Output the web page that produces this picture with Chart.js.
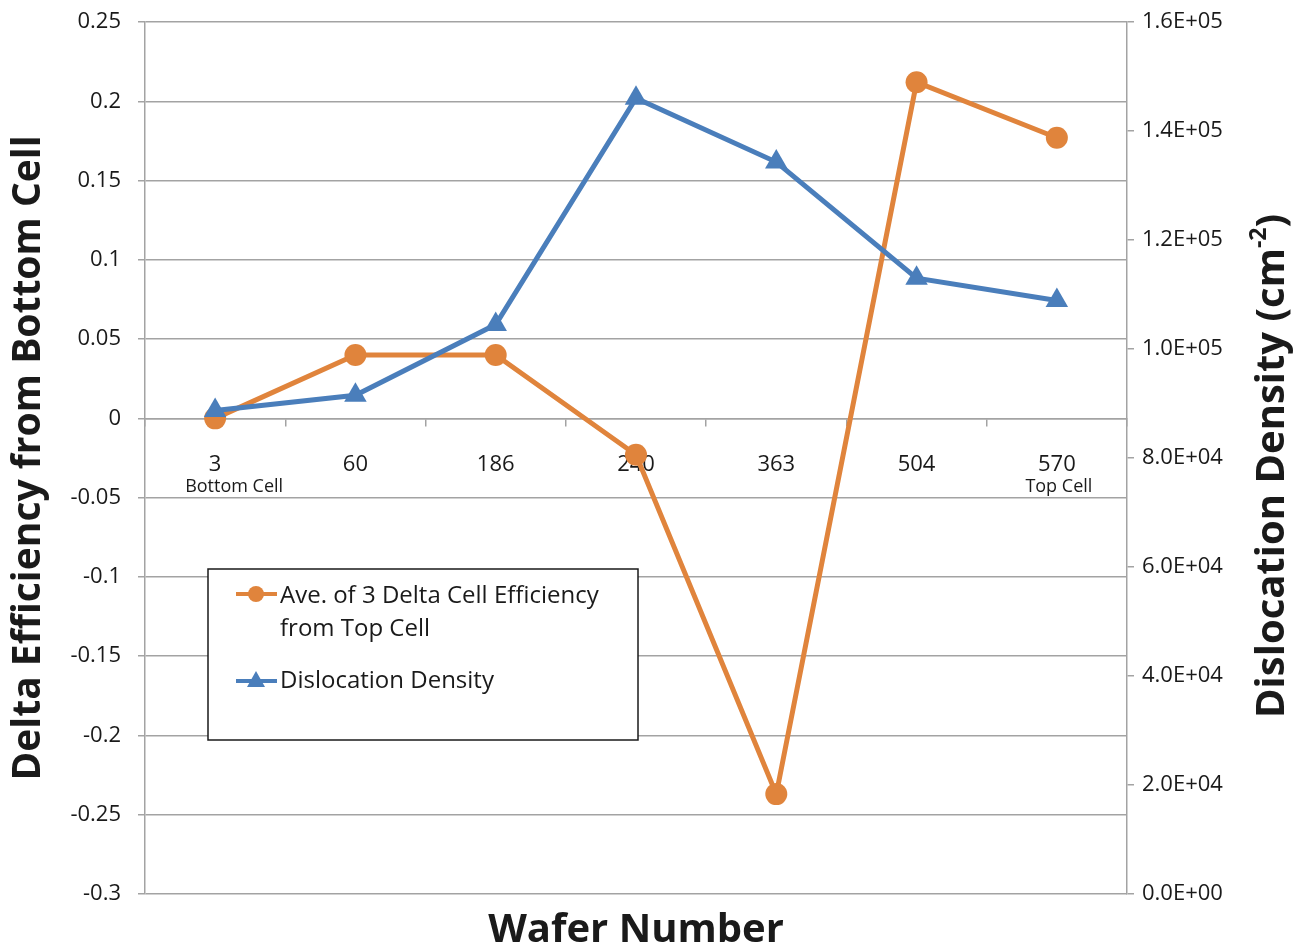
<!DOCTYPE html>
<html>
<head>
<meta charset="utf-8">
<script src="https://cdn.jsdelivr.net/npm/chart.js@4.4.0/dist/chart.umd.min.js"></script>
<style>
  html, body { margin: 0; padding: 0; background: #fff; }
</style>
</head>
<body>
<canvas id="lineChart" width="1306" height="946"></canvas>
<script>
// data
const wafers = ['3', '60', '186', '240', '363', '504', '570'];
const waferNotes = ['Bottom Cell', '', '', '', '', '', 'Top Cell'];
const deltaEfficiency = [0, 0.04, 0.04, -0.023, -0.237, 0.212, 0.177];
const dislocationDensity = [88700, 91500, 104500, 146000, 134300, 113000, 108900];

const orange = '#E0843C';
const blue = '#4A7EBB';
const gridGray = '#A3A3A3';
const textColor = '#1a1a1a';

Chart.defaults.font.family = "'Open Sans', sans-serif";
Chart.defaults.color = textColor;

// 2.0E+04 style labels
function sci(v) {
    if (v === 0) return '0.0E+00';
    const e = Math.floor(Math.log10(v) + 1e-9);
    const m = v / Math.pow(10, e);
    return m.toFixed(1) + 'E+' + String(e).padStart(2, '0');
}

// legend box inside the plot
const boxLegend = {
    id: 'boxLegend',
    afterDraw(chart) {
        const c = chart.ctx;
        c.save();
        c.fillStyle = '#fff';
        c.fillRect(208, 569, 430, 171);
        c.strokeStyle = '#1a1a1a';
        c.lineWidth = 1.5;
        c.strokeRect(208, 569, 430, 171);

        // orange entry
        c.strokeStyle = orange;
        c.lineWidth = 4;
        c.beginPath(); c.moveTo(236, 594); c.lineTo(277, 594); c.stroke();
        c.fillStyle = orange;
        c.beginPath(); c.arc(256, 594, 8, 0, Math.PI * 2); c.fill();

        // blue entry
        c.strokeStyle = blue;
        c.beginPath(); c.moveTo(236, 681); c.lineTo(277, 681); c.stroke();
        c.fillStyle = blue;
        c.beginPath();
        c.moveTo(256, 671); c.lineTo(265, 687); c.lineTo(247, 687); c.closePath();
        c.fill();

        c.fillStyle = textColor;
        c.font = "24px 'Open Sans', sans-serif";
        c.textBaseline = 'middle';
        c.textAlign = 'left';
        c.fillText('Ave. of 3 Delta Cell Efficiency', 280, 596);
        c.fillText('from Top Cell', 280, 629);
        c.fillText('Dislocation Density', 280, 681);
        c.restore();
    }
};

// small notes under the first and last wafer
const waferNoteLabels = {
    id: 'waferNoteLabels',
    afterDraw(chart) {
        const c = chart.ctx;
        const xs = chart.scales.x;
        c.save();
        c.fillStyle = textColor;
        c.font = "18px 'Open Sans', sans-serif";
        c.textBaseline = 'middle';
        c.textAlign = 'center';
        waferNotes.forEach((note, i) => {
            if (!note) return;
            const shift = i === 0 ? 19 : 2;
            c.fillText(note, xs.getPixelForValue(i) + shift, 487);
        });
        c.restore();
    }
};

// right axis title, read bottom to top, with superscript
const rightTitle = {
    id: 'rightTitle',
    afterDraw(chart) {
        const c = chart.ctx;
        const big = "bold 40px 'Open Sans', sans-serif";
        const small = "bold 23px 'Open Sans', sans-serif";
        const parts = [['Dislocation Density (cm', big, 0], ['-2', small, -14], [')', big, 0]];
        c.save();
        c.translate(1273, 466);
        c.rotate(-Math.PI / 2);
        c.fillStyle = textColor;
        c.textBaseline = 'middle';
        c.textAlign = 'left';
        let total = 0;
        parts.forEach(p => { c.font = p[1]; total += c.measureText(p[0]).width; });
        let x = -total / 2;
        parts.forEach(p => {
            c.font = p[1];
            c.fillText(p[0], x, p[2]);
            x += c.measureText(p[0]).width;
        });
        c.restore();
    }
};

// keep the plot top fixed by the layout padding only
function fitVertical(width) {
    return (s) => {
        s.width = width;
        s.paddingTop = 0;
        s.paddingBottom = 0;
    };
}

const ctx = document.getElementById('lineChart').getContext('2d');

const myChart = new Chart(ctx, {
    type: 'line',
    data: {
        labels: wafers,
        datasets: [{
            label: 'Ave. of 3 Delta Cell Efficiency from Top Cell',
            data: deltaEfficiency,
            xAxisID: 'x',
            yAxisID: 'y',
            borderColor: orange,
            backgroundColor: orange,
            borderWidth: 5,
            pointStyle: 'circle',
            pointRadius: 11,
            pointBorderWidth: 0,
            order: 1
        }, {
            label: 'Dislocation Density',
            data: dislocationDensity,
            xAxisID: 'x',
            yAxisID: 'y1',
            borderColor: blue,
            backgroundColor: blue,
            borderWidth: 5,
            pointStyle: 'triangle',
            pointRadius: 13,
            pointBorderWidth: 0,
            order: 0
        }]
    },
    options: {
        responsive: false,
        animation: false,
        layout: { padding: { top: 22, left: 0, right: 0, bottom: 0 } },
        plugins: {
            legend: { display: false },
            tooltip: { enabled: false }
        },
        scales: {
            x: {
                type: 'category',
                position: { y: 0 },
                offset: true,
                grid: { offset: true, drawOnChartArea: false, tickLength: 7, color: gridGray, lineWidth: 1.5 },
                border: { display: true, color: gridGray, width: 1.5 },
                ticks: { font: { size: 22 }, padding: 26, maxRotation: 0, autoSkip: false }
            },
            x2: {
                type: 'category',
                position: 'bottom',
                offset: true,
                grid: { display: false },
                border: { display: false },
                ticks: { display: false },
                title: { display: true, text: 'Wafer Number', font: { size: 40, weight: 'bold', lineHeight: 1 }, padding: { top: 0, bottom: -5 } },
                afterFit: (s) => { s.height = 52; }
            },
            y: {
                position: 'left',
                min: -0.3,
                max: 0.25,
                ticks: { stepSize: 0.05, font: { size: 22 }, padding: 17, callback: (v) => String(+v.toFixed(2)) },
                grid: { color: gridGray, lineWidth: 1.5, tickLength: 7 },
                border: { color: gridGray, width: 1.5 },
                title: { display: true, text: 'Delta Efficiency from Bottom Cell', font: { size: 39, weight: 'bold' }, padding: { top: 5 } },
                afterFit: fitVertical(145)
            },
            y1: {
                position: 'right',
                min: 0,
                max: 160000,
                ticks: { stepSize: 20000, font: { size: 22 }, padding: 8, callback: (v) => sci(v) },
                grid: { drawOnChartArea: false, color: gridGray, lineWidth: 1.5, tickLength: 7 },
                border: { color: gridGray, width: 1.5 },
                afterFit: fitVertical(179)
            }
        }
    },
    plugins: [boxLegend, waferNoteLabels, rightTitle]
});
</script>
</body>
</html>
